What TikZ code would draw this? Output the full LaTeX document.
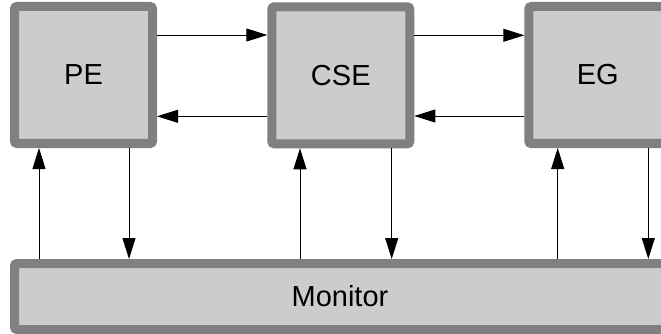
\documentclass[tikz,border=0pt]{standalone}
\usepackage{fontspec}
\setmainfont{Liberation Sans}
\usetikzlibrary{arrows.meta}
\definecolor{boxfill}{HTML}{CCCCCC}
\definecolor{boxedge}{HTML}{808080}
\begin{document}
\begin{tikzpicture}[x=1pt,y=-1pt,
  unit/.style={draw=boxedge, fill=boxfill, line width=9pt, rounded corners=2.5pt,
    minimum width=138pt, minimum height=137pt, inner sep=0pt,
    font=\fontsize{29}{34}\selectfont},
  arr/.style={line width=0.9pt, -{Triangle[length=21pt,width=13pt]}},
  link/.style={line width=0.9pt}]
\useasboundingbox (0,0) rectangle (661,334);
\fill[white] (0,0) rectangle (661,334);
\clip (0,0) rectangle (661,334);

% processing units
\node[unit] (PE)  at (83.5,75)  {PE};
\node[unit] (CSE) at (340.8,75.3) {CSE};
\node[unit] (EG)  at (597.8,75) {EG};

% monitor bar along the bottom
\node[unit, minimum width=651pt, minimum height=66pt] (Mon) at (340,296.5) {Monitor};

% forward links along the top
\draw[arr] ([yshift=40pt]PE.east) -- ([yshift=40pt]PE.east -| CSE.west);
\draw[arr] ([yshift=40pt]CSE.east) -- ([yshift=40pt]CSE.east -| EG.west);

% backward links below
\draw[arr] ([yshift=-41pt]CSE.west) -- ([yshift=-41pt]CSE.west -| PE.east);
\draw[arr] ([yshift=-41pt]EG.west) -- ([yshift=-41pt]EG.west -| CSE.east);

% links between the units and the monitor
\draw[arr] ([xshift=-44.5pt]PE.south |- Mon.north) -- ([xshift=-44.5pt]PE.south);
\draw[arr] ([xshift=45.5pt]PE.south) -- ([xshift=45.5pt]PE.south |- Mon.north);
\draw[arr] ([xshift=-40.8pt]CSE.south |- Mon.north) -- ([xshift=-40.8pt]CSE.south);
\draw[arr] ([xshift=50.9pt]CSE.south) -- ([xshift=50.9pt]CSE.south |- Mon.north);
\draw[arr] ([xshift=-40.1pt]EG.south |- Mon.north) -- ([xshift=-40.1pt]EG.south);
\draw[arr] ([xshift=50.5pt]EG.south) -- ([xshift=50.5pt]EG.south |- Mon.north);
\end{tikzpicture}
\end{document}
